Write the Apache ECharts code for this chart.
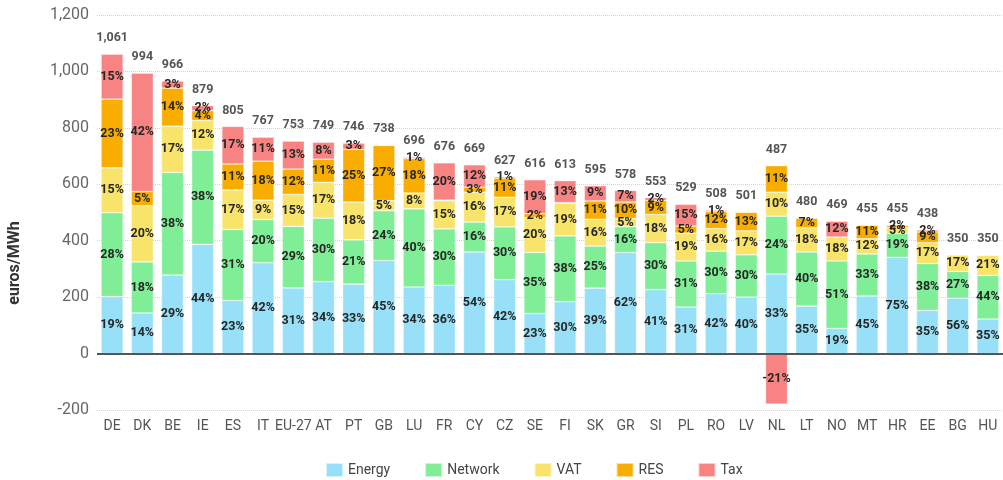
<!DOCTYPE html>
<html>
<head>
<meta charset="utf-8">
<script src="https://cdn.jsdelivr.net/npm/echarts@6/dist/echarts.min.js"></script>
<style>
html,body{margin:0;padding:0;background:#fff;}
#chart{width:1003px;height:480px;}
</style>
</head>
<body>
<div id="chart"></div>
<script>
const categories = ['DE','DK','BE','IE','ES','IT','EU-27','AT','PT','GB','LU','FR','CY','CZ','SE','FI','SK','GR','SI','PL','RO','LV','NL','LT','NO','MT','HR','EE','BG','HU'];
const energy  = [202,144,278,387,188,322,233,255,246,330,236,242,360,262,142,184,232,358,227,165,212,200,282,168, 89,204,341,153,196,122];
const network = [297,181,364,334,252,153,218,225,157,176,277,200,106,187,216,233,149, 92,166,163,151,150,205,192,239,149, 85,166, 95,155];
const vat     = [159,199,164,105,140, 69,113,127,134, 36, 56,100,106,105,124,116, 95, 29,100, 99, 80, 85, 85, 86, 85, 54, 21, 74, 59, 72];
const res     = [244, 50,135, 35, 92,138, 90, 82,187,196,122,  2, 18, 68, 14,  2, 65, 58, 50, 25, 60, 66, 94, 34,  0, 48,  8, 38,  0,  1];
const tax     = [159,420, 25, 18,133, 85, 99, 60, 22,  0,  5,132, 79,  5,120, 78, 54, 41, 10, 77,  5,  0,-179, 0, 56,  0,  0,  7,  0,  0];
const yTicks  = {min:-200, max:1200, interval:200};

const seriesDefs = [
  {name:'Energy',  data:energy,  color:'#97e0f7'},
  {name:'Network', data:network, color:'#7fee97'},
  {name:'VAT',     data:vat,     color:'#f8e46b'},
  {name:'RES',     data:res,     color:'#f8ad00'},
  {name:'Tax',     data:tax,     color:'#f88383'}
];
const all = [energy, network, vat, res, tax];
const absSum = categories.map((c,i)=>all.reduce((s,a)=>s+Math.abs(a[i]),0));
const netSum = categories.map((c,i)=>all.reduce((s,a)=>s+a[i],0));
const posSum = categories.map((c,i)=>all.reduce((s,a)=>s+Math.max(0,a[i]),0));

const FONT = 'Roboto, "Liberation Sans", Arial, sans-serif';

const series = seriesDefs.map((d,k)=>({
  name:d.name, type:'bar', stack:'total', barWidth:22,
  data:d.data,
  itemStyle:{color:d.color, borderColor:'rgba(255,255,255,0.6)', borderWidth:0.6},
  label:{
    show:true, position:'inside', fontFamily:FONT, fontWeight:'bold', fontSize:12.5, color:'#262626',
    formatter:p=>{
      const v=p.value; const pct=Math.round(Math.abs(v)/absSum[p.dataIndex]*100);
      if(!v||pct===0) return '';
      return (v<0?'-':'')+pct+'%';
    }
  },
  labelLayout:{hideOverlap:false},
  markLine: k===0 ? {silent:true, symbol:'none', label:{show:false}, lineStyle:{color:'#555', width:2, type:'solid'}, data:[{yAxis:0}]} : undefined
}));

series.push({
  name:'total', type:'scatter', data:posSum, symbolSize:1,
  itemStyle:{color:'rgba(0,0,0,0)'}, silent:true,
  label:{show:true, position:'top', distance:9, fontFamily:FONT, fontWeight:'bold', fontSize:12.5, color:'#2a2a2a',
    formatter:p=>netSum[p.dataIndex].toLocaleString('en-US')},
  z:5
});

const chart = echarts.init(document.getElementById('chart'), null, {renderer:'canvas'});
chart.setOption({
  animation:false,
  backgroundColor:'#fff',
  grid:{left:97, right:-4, top:15, bottom:70},
  legend:{
    data:['Energy','Network','VAT','RES','Tax'], left:320, top:457,
    itemWidth:17, itemHeight:14, itemGap:34, icon:'rect',
    textStyle:{fontFamily:FONT, fontSize:14, color:'#444'}
  },
  xAxis:{
    type:'category', data:categories,
    axisLine:{show:false}, axisTick:{show:false},
    axisLabel:{fontFamily:FONT, fontSize:14, color:'#555', margin:9, interval:0}
  },
  yAxis:{
    type:'value', min:yTicks.min, max:yTicks.max, interval:yTicks.interval,
    axisLine:{show:false}, axisTick:{show:false},
    axisLabel:{fontFamily:FONT, fontSize:16, color:'#666', margin:8,
      formatter:v=>v.toLocaleString('en-US')},
    splitLine:{lineStyle:{color:'#d4d4d4', type:'dotted', width:1}}
  },
  graphic:[{
    type:'text', x:15, y:263, rotation:Math.PI/2,
    style:{text:'euros/MWh', font:'bold 16px '+FONT, fill:'#333', textAlign:'center', textVerticalAlign:'middle'}
  }],
  series:series
});
</script>
</body>
</html>
